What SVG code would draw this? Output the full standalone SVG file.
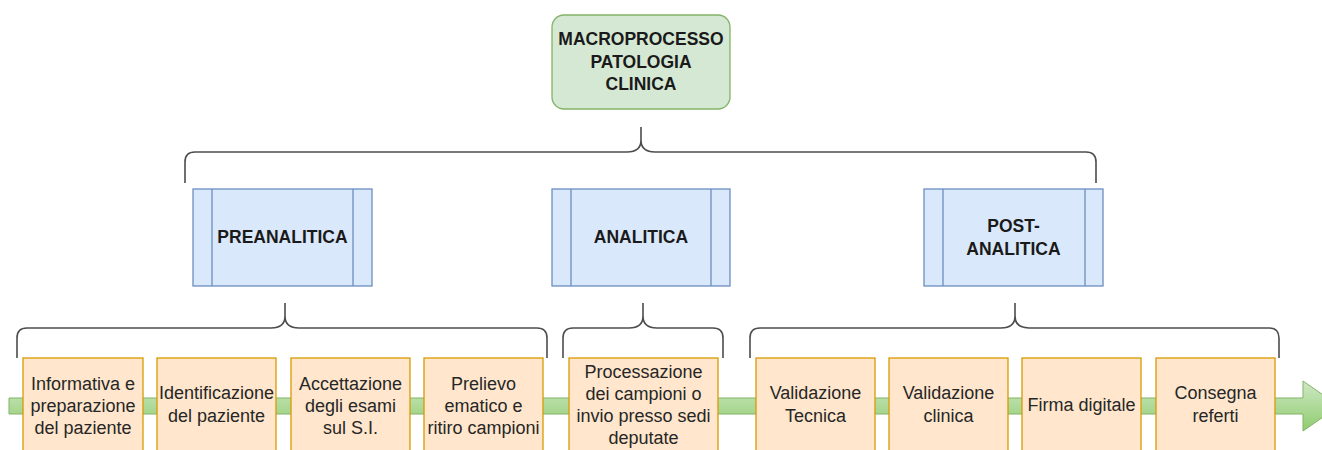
<svg xmlns="http://www.w3.org/2000/svg" width="1322" height="450" viewBox="0 0 1322 450">
<style>
.t{font-family:"Liberation Sans",Arial,sans-serif;font-size:18px;fill:#262626;text-anchor:middle}
.b{font-weight:bold;font-size:17.5px;fill:#1a1a1a}
.blue{fill:#dae8fc;stroke:#6c8ebf;stroke-width:1.3}
.org{fill:#ffe6cc;stroke:#d79b00;stroke-width:1.3}
.brace{fill:none;stroke:#4d4d4d;stroke-width:1.6}
</style>
<defs>
<linearGradient id="g" x1="0" y1="0" x2="0" y2="1">
<stop offset="0" stop-color="#cfe8c6"/>
<stop offset="1" stop-color="#8fcc6e"/>
</linearGradient>
</defs>
<rect width="1322" height="450" fill="#ffffff"/>
<g id="connectors">
<polygon points="9,398 1303,398 1303,381 1339,406 1303,431 1303,414 9,414" fill="url(#g)" stroke="#82b366" stroke-width="1"/>
<path class="brace" d="M185,183 L185,162 Q185,152 195,152 L627,152 Q641,152 641,140 L641,127 M641,140 Q641,152 655,152 L1086,152 Q1096,152 1096,162 L1096,183"/>
<path class="brace" d="M17,358 L17,338 Q17,328 27,328 L271,328 Q285,328 285,316 L285,303 M285,316 Q285,328 299,328 L537,328 Q547,328 547,338 L547,358"/>
<path class="brace" d="M563,358 L563,338 Q563,328 573,328 L629,328 Q643,328 643,316 L643,303 M643,316 Q643,328 657,328 L713,328 Q723,328 723,338 L723,358"/>
<path class="brace" d="M750,358 L750,338 Q750,328 760,328 L1001,328 Q1015,328 1015,316 L1015,303 M1015,316 Q1015,328 1029,328 L1269,328 Q1279,328 1279,338 L1279,358"/>
</g>
<g id="macro">
<rect x="552" y="15" width="178" height="94" rx="12" fill="#d5e8d4" stroke="#82b366" stroke-width="1.3"/>
<text class="t b" x="641" y="45">MACROPROCESSO</text>
<text class="t b" x="641" y="67.5">PATOLOGIA</text>
<text class="t b" x="641" y="90">CLINICA</text>
</g>
<g id="preanalitica">
<rect class="blue" x="193" y="189" width="179" height="97"/>
<line class="blue" x1="212" y1="189" x2="212" y2="286"/>
<line class="blue" x1="353" y1="189" x2="353" y2="286"/>
<text class="t b" x="282.5" y="243">PREANALITICA</text>
</g>
<g id="analitica">
<rect class="blue" x="552" y="189" width="178" height="97"/>
<line class="blue" x1="571" y1="189" x2="571" y2="286"/>
<line class="blue" x1="711" y1="189" x2="711" y2="286"/>
<text class="t b" x="641" y="243">ANALITICA</text>
</g>
<g id="postanalitica">
<rect class="blue" x="924" y="189" width="179" height="97"/>
<line class="blue" x1="943" y1="189" x2="943" y2="286"/>
<line class="blue" x1="1085" y1="189" x2="1085" y2="286"/>
<text class="t b" x="1013.5" y="232">POST-</text>
<text class="t b" x="1013.5" y="255">ANALITICA</text>
</g>
<g id="step1">
<rect class="org" x="23" y="358" width="120" height="96"/>
<text class="t" x="83" y="390">Informativa e</text>
<text class="t" x="83" y="412">preparazione</text>
<text class="t" x="83" y="434">del paziente</text>
</g>
<g id="step2">
<rect class="org" x="157" y="358" width="119" height="96"/>
<text class="t" x="216.5" y="399">Identificazione</text>
<text class="t" x="216.5" y="422">del paziente</text>
</g>
<g id="step3">
<rect class="org" x="291" y="358" width="119" height="96"/>
<text class="t" x="350.5" y="390">Accettazione</text>
<text class="t" x="350.5" y="412">degli esami</text>
<text class="t" x="350.5" y="434">sul S.I.</text>
</g>
<g id="step4">
<rect class="org" x="424" y="358" width="119" height="96"/>
<text class="t" x="483.5" y="390">Prelievo</text>
<text class="t" x="483.5" y="412">ematico e</text>
<text class="t" x="483.5" y="434">ritiro campioni</text>
</g>
<g id="step5">
<rect class="org" x="569" y="358" width="149" height="96"/>
<text class="t" x="643.5" y="378">Processazione</text>
<text class="t" x="643.5" y="400">dei campioni o</text>
<text class="t" x="643.5" y="422">invio presso sedi</text>
<text class="t" x="643.5" y="444">deputate</text>
</g>
<g id="step6">
<rect class="org" x="756" y="358" width="119" height="96"/>
<text class="t" x="815.5" y="399">Validazione</text>
<text class="t" x="815.5" y="422">Tecnica</text>
</g>
<g id="step7">
<rect class="org" x="889" y="358" width="119" height="96"/>
<text class="t" x="948.5" y="399">Validazione</text>
<text class="t" x="948.5" y="422">clinica</text>
</g>
<g id="step8">
<rect class="org" x="1022" y="358" width="119" height="96"/>
<text class="t" x="1081.5" y="411">Firma digitale</text>
</g>
<g id="step9">
<rect class="org" x="1156" y="358" width="119" height="96"/>
<text class="t" x="1215.5" y="399">Consegna</text>
<text class="t" x="1215.5" y="422">referti</text>
</g>
</svg>
